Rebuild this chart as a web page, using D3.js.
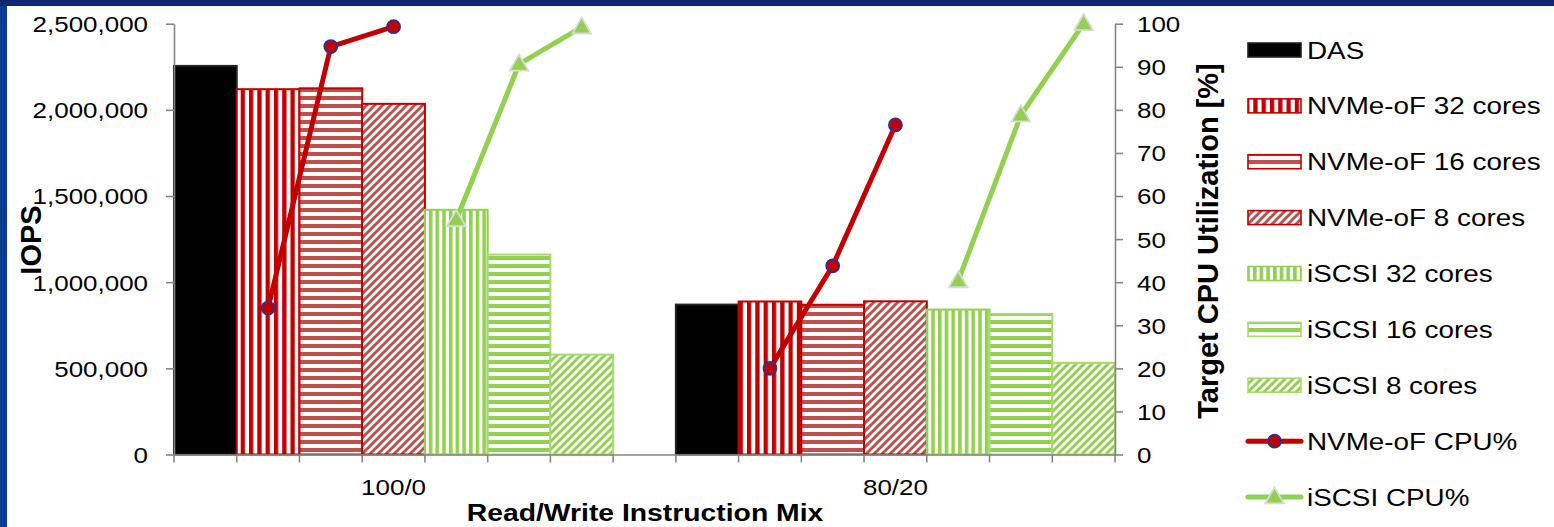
<!DOCTYPE html>
<html>
<head>
<meta charset="utf-8">
<script src="https://cdn.jsdelivr.net/npm/d3@7"></script>
<style>
  html, body { margin: 0; padding: 0; background: #fff; overflow: hidden; }
  text { font-family: "Liberation Sans", Arial, sans-serif; fill: #000; }
</style>
</head>
<body>
<svg id="chart" width="1554" height="527"></svg>
<script>
// ---- data ----
const mixes = ["100/0", "80/20"];
const series = ["DAS", "NVMe-oF 32 cores", "NVMe-oF 16 cores", "NVMe-oF 8 cores",
                "iSCSI 32 cores", "iSCSI 16 cores", "iSCSI 8 cores"];
const iops_100_0 = [2255000, 2120000, 2125000, 2035000, 1420000, 1160000, 580000];
const iops_80_20 = [870000, 888000, 869000, 889000, 841000, 816000, 532000];

const cpuSeries = ["NVMe-oF CPU%", "iSCSI CPU%"];
const nvmeCores = ["NVMe-oF 32 cores", "NVMe-oF 16 cores", "NVMe-oF 8 cores"];
const iscsiCores = ["iSCSI 32 cores", "iSCSI 16 cores", "iSCSI 8 cores"];
const nvmeCpu_100_0 = [34, 94.7, 99.3];
const nvmeCpu_80_20 = [20, 43.8, 76.5];
const iscsiCpu_100_0 = [54.5, 90.6, 99.2];
const iscsiCpu_80_20 = [40.3, 78.8, 100];

const iopsTicks = [0, 500000, 1000000, 1500000, 2000000, 2500000];
const cpuTicks = [0, 10, 20, 30, 40, 50, 60, 70, 80, 90, 100];

const iopsByMix = { "100/0": iops_100_0, "80/20": iops_80_20 };
const nvmeByMix = { "100/0": nvmeCpu_100_0, "80/20": nvmeCpu_80_20 };
const iscsiByMix = { "100/0": iscsiCpu_100_0, "80/20": iscsiCpu_80_20 };

// ---- layout ----
const W = 1554, H = 527;
const plot = { left: 174, right: 1115, top: 23.7, bottom: 454.5 };
const SX = 1.18;           // horizontal glyph stretch
const axisColor = "#868686";
const RED = "#c00000", RED2 = "#c0504d", GREEN = "#92d050";

const svg = d3.select("#chart");

// frame
svg.append("rect").attr("width", W).attr("height", H).attr("fill", "#fff");
svg.append("rect").attr("x", 0).attr("y", 0).attr("width", 7).attr("height", H).attr("fill", "#0b3a97");
svg.append("rect").attr("x", 0).attr("y", 0).attr("width", W).attr("height", 6).attr("fill", "#0e2a6d");

// ---- patterns ----
const defs = svg.append("defs");
function stripePattern(id, w, h, color, vertical, band) {
  const p = defs.append("pattern").attr("id", id).attr("patternUnits", "userSpaceOnUse")
    .attr("width", w).attr("height", h);
  p.append("rect").attr("width", w).attr("height", h).attr("fill", "#fff");
  if (vertical) p.append("rect").attr("x", 0).attr("y", 0).attr("width", band).attr("height", h).attr("fill", color);
  else p.append("rect").attr("x", 0).attr("y", 0).attr("width", w).attr("height", band).attr("fill", color);
}
function diagPattern(id, s, color, sw) {
  const p = defs.append("pattern").attr("id", id).attr("patternUnits", "userSpaceOnUse")
    .attr("width", s).attr("height", s);
  p.append("rect").attr("width", s).attr("height", s).attr("fill", "#fff");
  p.append("path")
    .attr("d", `M0,${s} L${s},0 M${-s / 2},${s / 2} L${s / 2},${-s / 2} M${s / 2},${s * 1.5} L${s * 1.5},${s / 2}`)
    .attr("stroke", color).attr("stroke-width", sw);
}
stripePattern("vRed", 8.3, 8, RED, true, 4.3);
stripePattern("hRed", 8, 8, RED2, false, 4);
diagPattern("dRed", 8, RED2, 3);
stripePattern("vGreen", 6.7, 8, GREEN, true, 3.6);
stripePattern("hGreen", 8, 8, GREEN, false, 4);
diagPattern("dGreen", 8, GREEN, 3);

const styles = {
  "DAS":              { fill: "#000", stroke: "#222" },
  "NVMe-oF 32 cores": { fill: "url(#vRed)", stroke: RED },
  "NVMe-oF 16 cores": { fill: "url(#hRed)", stroke: RED },
  "NVMe-oF 8 cores":  { fill: "url(#dRed)", stroke: RED },
  "iSCSI 32 cores":   { fill: "url(#vGreen)", stroke: GREEN },
  "iSCSI 16 cores":   { fill: "url(#hGreen)", stroke: "#a6da6e" },
  "iSCSI 8 cores":    { fill: "url(#dGreen)", stroke: "#a6da6e" }
};

// ---- scales ----
const xGroup = d3.scaleBand().domain(mixes).range([plot.left, plot.right])
  .paddingInner(0.125).paddingOuter(0);
const xBar = d3.scaleBand().domain(series).range([0, xGroup.bandwidth()]).padding(0);
const yIops = d3.scaleLinear().domain([0, 2500000]).range([plot.bottom, plot.top]);
const yCpu = d3.scaleLinear().domain([0, 100]).range([plot.bottom, plot.top]);

// stretched text helper
function label(g, x, y, str, opts = {}) {
  const t = g.append("text")
    .attr("transform", `translate(${x},${y}) ${opts.rotate ? "rotate(-90)" : ""} scale(${opts.sx ?? SX},1)`)
    .attr("text-anchor", opts.anchor || "start")
    .style("font-size", (opts.size || 22) + "px")
    .style("font-weight", opts.bold ? "bold" : "normal")
    .text(str);
  return t;
}

// ---- bars ----
const barsG = svg.append("g");
mixes.forEach(m => {
  barsG.append("g").selectAll("rect")
    .data(series.map((s, i) => ({ s, v: iopsByMix[m][i] })))
    .join("rect")
    .attr("x", d => xGroup(m) + xBar(d.s))
    .attr("y", d => yIops(d.v))
    .attr("width", xBar.bandwidth())
    .attr("height", d => yIops(0) - yIops(d.v))
    .attr("fill", d => styles[d.s].fill)
    .attr("stroke", d => styles[d.s].stroke)
    .attr("stroke-width", 2);
});

// ---- axes ----
const axG = svg.append("g");
// left
const leftAxis = axG.append("g").attr("transform", `translate(${plot.left},0)`)
  .call(d3.axisLeft(yIops).tickValues(iopsTicks).tickSize(8).tickSizeOuter(0).tickFormat(d3.format(",")));
// right
const rightAxis = axG.append("g").attr("transform", `translate(${plot.right},0)`)
  .call(d3.axisRight(yCpu).tickValues(cpuTicks).tickSize(8).tickSizeOuter(0).tickFormat(d3.format("d")));
[leftAxis, rightAxis].forEach(a => {
  a.select(".domain").attr("stroke", axisColor).attr("stroke-width", 1.6);
  a.selectAll(".tick line").attr("stroke", axisColor).attr("stroke-width", 1.6);
  a.selectAll(".tick text").attr("fill", "#000").style("font-size", "22px")
    .style("font-family", '"Liberation Sans", Arial, sans-serif');
});
leftAxis.selectAll(".tick text").attr("x", null).attr("dy", "0.36em")
  .attr("transform", `translate(-26,0) scale(${SX},1)`);
rightAxis.selectAll(".tick text").attr("x", null).attr("dy", "0.36em")
  .attr("transform", `translate(22,0) scale(${SX},1)`);

// bottom
const bottomAxis = axG.append("g").attr("transform", `translate(0,${plot.bottom})`)
  .call(d3.axisBottom(xGroup).tickSize(0).tickSizeOuter(0));
bottomAxis.select(".domain").attr("stroke", axisColor).attr("stroke-width", 1.6);
bottomAxis.selectAll(".tick text").attr("fill", "#000").attr("y", null).attr("dy", null)
  .style("font-size", "22px").style("font-family", '"Liberation Sans", Arial, sans-serif')
  .attr("transform", `translate(0,40.5) scale(${SX},1)`);
const edges = [];
mixes.forEach(m => {
  series.forEach(s => edges.push(xGroup(m) + xBar(s)));
  edges.push(xGroup(m) + xGroup.bandwidth());
});
bottomAxis.append("g").selectAll("line").data(edges).join("line")
  .attr("x1", d => d).attr("x2", d => d).attr("y1", 0).attr("y2", 8)
  .attr("stroke", axisColor).attr("stroke-width", 1.6);

// axis titles
label(svg, 645, 521, "Read/Write Instruction Mix", { anchor: "middle", size: 24, bold: true });
label(svg, 41, 240, "IOPS", { anchor: "middle", size: 29, bold: true, rotate: true, sx: 1 });
label(svg, 1218, 241, "Target CPU Utilization [%]", { anchor: "middle", size: 29, bold: true, rotate: true, sx: 1 });

// ---- CPU lines ----
const linesG = svg.append("g");
const lineGen = d3.line().x(d => d.x).y(d => yCpu(d.v));
function cpuPoints(m, cores, vals) {
  return cores.map((c, i) => ({ x: xGroup(m) + xBar(c) + xBar.bandwidth() / 2, v: vals[i] }));
}
const triangle = d3.symbol().type(d3.symbolTriangle).size(150);

mixes.forEach(m => {
  const nv = cpuPoints(m, nvmeCores, nvmeByMix[m]);
  const is = cpuPoints(m, iscsiCores, iscsiByMix[m]);
  linesG.append("path").datum(nv).attr("d", lineGen)
    .attr("fill", "none").attr("stroke", RED).attr("stroke-width", 5).attr("stroke-linejoin", "round");
  linesG.append("path").datum(is).attr("d", lineGen)
    .attr("fill", "none").attr("stroke", GREEN).attr("stroke-width", 5).attr("stroke-linejoin", "round");
  linesG.append("g").selectAll("circle").data(nv).join("circle")
    .attr("cx", d => d.x).attr("cy", d => yCpu(d.v)).attr("r", 6.5)
    .attr("fill", RED).attr("stroke", "#2e3192").attr("stroke-width", 1.8);
  linesG.append("g").selectAll("path").data(is).join("path")
    .attr("d", triangle)
    .attr("transform", d => `translate(${d.x},${yCpu(d.v) + 1})`)
    .attr("fill", GREEN).attr("stroke", "#d9d9d9").attr("stroke-width", 1.8);
});

// ---- legend ----
const legend = svg.append("g");
const legendItems = series.concat(cpuSeries);
const legY = d3.scalePoint().domain(legendItems).range([50, 497]);
const swX = 1248, swW = 53, swH = 14, txtX = 1307;
legendItems.forEach(name => {
  const y = legY(name);
  if (styles[name]) {
    legend.append("rect").attr("x", swX).attr("y", y - swH / 2).attr("width", swW).attr("height", swH)
      .attr("fill", styles[name].fill).attr("stroke", styles[name].stroke).attr("stroke-width", 1.6);
  } else {
    const isNv = name === "NVMe-oF CPU%";
    legend.append("line").attr("x1", swX).attr("x2", swX + swW).attr("y1", y).attr("y2", y)
      .attr("stroke", isNv ? RED : GREEN).attr("stroke-width", 5).attr("stroke-linecap", "round");
    if (isNv) {
      legend.append("circle").attr("cx", swX + swW / 2).attr("cy", y).attr("r", 6.5)
        .attr("fill", RED).attr("stroke", "#2e3192").attr("stroke-width", 1.8);
    } else {
      legend.append("path").attr("d", triangle).attr("transform", `translate(${swX + swW / 2},${y + 1})`)
        .attr("fill", GREEN).attr("stroke", "#d9d9d9").attr("stroke-width", 1.8);
    }
  }
  label(legend, txtX, y + 8.5, name, { size: 23.6 });
});
</script>
</body>
</html>
